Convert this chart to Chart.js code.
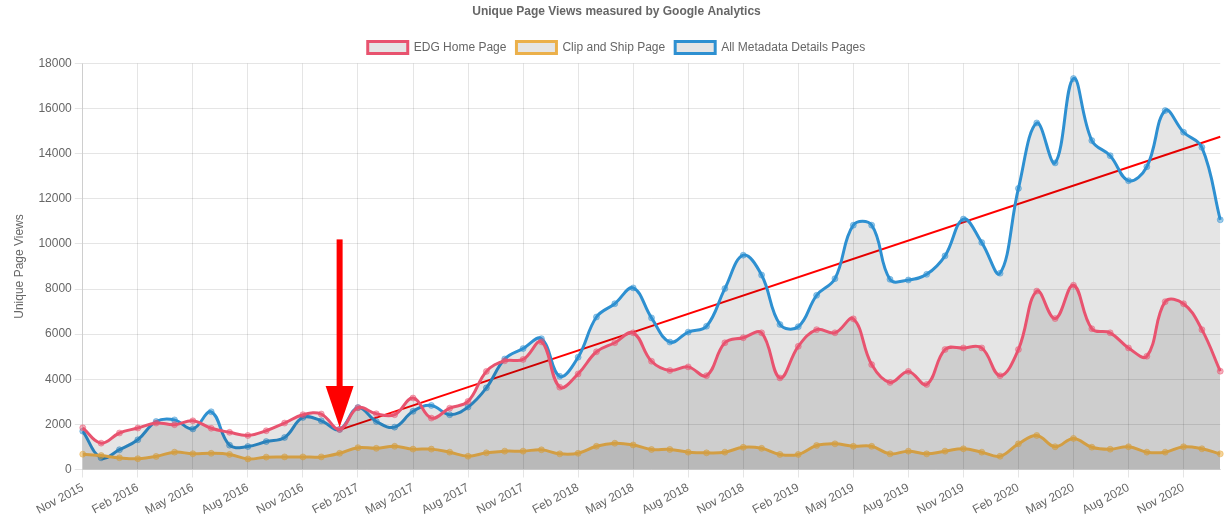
<!DOCTYPE html>
<html lang="en">
<head>
    <meta charset="UTF-8">
    <title>Unique Page Views measured by Google Analytics</title>
    <script src="https://cdn.jsdelivr.net/npm/chart.js"></script>
    <style>
        body, html { margin: 0; padding: 0; background: #fff; }
        .chart-container { position: relative; width: 1230px; height: 530px; }
    </style>
</head>
<body>
    <div class="chart-container">
        <canvas id="chart"></canvas>
    </div>

    <script>
        var months = [
            'Nov 2015', 'Dec 2015',
            'Jan 2016', 'Feb 2016', 'Mar 2016', 'Apr 2016', 'May 2016', 'Jun 2016',
            'Jul 2016', 'Aug 2016', 'Sep 2016', 'Oct 2016', 'Nov 2016', 'Dec 2016',
            'Jan 2017', 'Feb 2017', 'Mar 2017', 'Apr 2017', 'May 2017', 'Jun 2017',
            'Jul 2017', 'Aug 2017', 'Sep 2017', 'Oct 2017', 'Nov 2017', 'Dec 2017',
            'Jan 2018', 'Feb 2018', 'Mar 2018', 'Apr 2018', 'May 2018', 'Jun 2018',
            'Jul 2018', 'Aug 2018', 'Sep 2018', 'Oct 2018', 'Nov 2018', 'Dec 2018',
            'Jan 2019', 'Feb 2019', 'Mar 2019', 'Apr 2019', 'May 2019', 'Jun 2019',
            'Jul 2019', 'Aug 2019', 'Sep 2019', 'Oct 2019', 'Nov 2019', 'Dec 2019',
            'Jan 2020', 'Feb 2020', 'Mar 2020', 'Apr 2020', 'May 2020', 'Jun 2020',
            'Jul 2020', 'Aug 2020', 'Sep 2020', 'Oct 2020', 'Nov 2020', 'Dec 2020',
            'Jan 2021'
        ];

        // EDG Home Page
        var edgHome = [
            1850, 1170, 1620, 1840, 2060, 1990, 2160, 1830, 1650, 1510, 1720, 2060, 2430, 2460,
            1780, 2740, 2470, 2430, 3170, 2280, 2720, 3020, 4350, 4820, 4880, 5660,
            3650, 4240, 5220, 5620, 6060, 4800, 4390, 4550, 4160, 5620, 5840, 6060,
            4060, 5460, 6200, 6060, 6680, 4650, 3860, 4350, 3770, 5320, 5390, 5390,
            4160, 5320, 7910, 6690, 8170, 6240, 6060, 5390, 5020, 7440, 7350, 6200,
            4360
        ];

        // Clip and Ship Page
        var clipShip = [
            680, 620, 520, 480, 580, 770, 700, 720, 670, 470, 550, 560, 560, 560,
            720, 970, 940, 1030, 905, 905, 770, 590, 740, 815, 815, 875,
            695, 720, 1030, 1165, 1090, 890, 890, 770, 740, 770, 985, 940,
            670, 670, 1065, 1140, 1030, 1030, 695, 815, 695, 815, 920, 770,
            590, 1140, 1510, 1010, 1380, 990, 900, 1010, 770, 770, 1010, 920,
            695
        ];

        // All Metadata Details Pages
        var metadataPages = [
            1700, 520, 880, 1320, 2130, 2200, 1800, 2560, 1080, 1020, 1240, 1420, 2310, 2160,
            1780, 2750, 2130, 1880, 2580, 2840, 2430, 2770, 3620, 4900, 5360, 5800,
            4130, 4980, 6760, 7350, 8050, 6720, 5650, 6090, 6350, 8020, 9500, 8620,
            6430, 6330, 7720, 8460, 10830, 10830, 8430, 8400, 8650, 9470, 11100, 10060,
            8700, 12460, 15360, 13590, 17330, 14580, 13910, 12800, 13420, 15910, 14950, 14280,
            11070
        ];

        // hand drawn annotation: trend line and arrow
        var trendStartIndex = 14, trendStartValue = 1760;
        var trendEndIndex = 62, trendEndValue = 14750;
        var arrowIndex = 14, arrowTopValue = 10200, arrowHeadValue = 3700, arrowTipValue = 1880;

        var trendLine = months.map(function(_, i) {
            if (i === trendStartIndex) return trendStartValue;
            if (i === trendEndIndex) return trendEndValue;
            return null;
        });

        var arrowPlugin = {
            id: 'arrow',
            afterDatasetsDraw: function(chart) {
                var ctx = chart.ctx;
                var x = chart.scales.x.getPixelForValue(arrowIndex);
                var y = chart.scales.y;
                var top = y.getPixelForValue(arrowTopValue);
                var head = y.getPixelForValue(arrowHeadValue);
                var tip = y.getPixelForValue(arrowTipValue);
                ctx.save();
                ctx.fillStyle = '#ff0000';
                ctx.fillRect(x - 3, top, 6, head - top + 1);
                ctx.beginPath();
                ctx.moveTo(x - 14, head);
                ctx.lineTo(x + 14, head);
                ctx.lineTo(x, tip);
                ctx.closePath();
                ctx.fill();
                ctx.restore();
            }
        };

        function series(label, data, color, fillColor) {
            return {
                label: label,
                data: data,
                borderColor: color,
                backgroundColor: 'rgba(0, 0, 0, 0.1)',
                pointBackgroundColor: fillColor,
                pointBorderColor: fillColor,
                pointBorderWidth: 1,
                pointRadius: 3,
                borderWidth: 3,
                tension: 0.4,
                fill: 'origin'
            };
        }

        Chart.defaults.font.family = '"Liberation Sans", Arial, Helvetica, sans-serif';
        Chart.defaults.font.size = 12;
        Chart.defaults.color = '#666';

        new Chart(document.getElementById('chart').getContext('2d'), {
            type: 'line',
            data: {
                labels: months,
                datasets: [
                    series('EDG Home Page', edgHome, '#e8536f', 'rgba(232, 83, 111, 0.45)'),
                    series('Clip and Ship Page', clipShip, '#ebb04b', 'rgba(235, 176, 75, 0.55)'),
                    series('All Metadata Details Pages', metadataPages, '#2e90d1', 'rgba(46, 144, 209, 0.45)'),
                    {
                        label: 'trend',
                        data: trendLine,
                        borderColor: '#ff0000',
                        borderWidth: 2,
                        pointRadius: 0,
                        tension: 0,
                        spanGaps: true,
                        fill: false
                    }
                ]
            },
            options: {
                responsive: true,
                maintainAspectRatio: false,
                animation: false,
                layout: { padding: { left: 5, right: 2, bottom: 9 } },
                plugins: {
                    title: {
                        display: true,
                        text: 'Unique Page Views measured by Google Analytics',
                        font: { size: 12, weight: 'bold' },
                        padding: { top: 4, bottom: 13 }
                    },
                    legend: {
                        labels: {
                            boxWidth: 40,
                            boxHeight: 12,
                            padding: 10,
                            filter: function(item) { return item.text !== 'trend'; }
                        }
                    },
                    tooltip: { enabled: false }
                },
                scales: {
                    x: {
                        grid: {
                            color: function(context) {
                                return context.index % 3 === 0 ? 'rgba(0, 0, 0, 0.1)' : 'rgba(0, 0, 0, 0)';
                            }
                        },
                        ticks: {
                            autoSkip: false,
                            minRotation: 28,
                            maxRotation: 28,
                            callback: function(value, index) {
                                return index % 3 === 0 ? months[index] : '';
                            }
                        }
                    },
                    y: {
                        min: 0,
                        max: 18000,
                        grid: { color: 'rgba(0, 0, 0, 0.1)' },
                        ticks: {
                            stepSize: 2000,
                            callback: function(value) { return String(value); }
                        },
                        title: { display: true, text: 'Unique Page Views', padding: { top: 7, bottom: 9 } }
                    }
                }
            },
            plugins: [arrowPlugin]
        });
    </script>
</body>
</html>
